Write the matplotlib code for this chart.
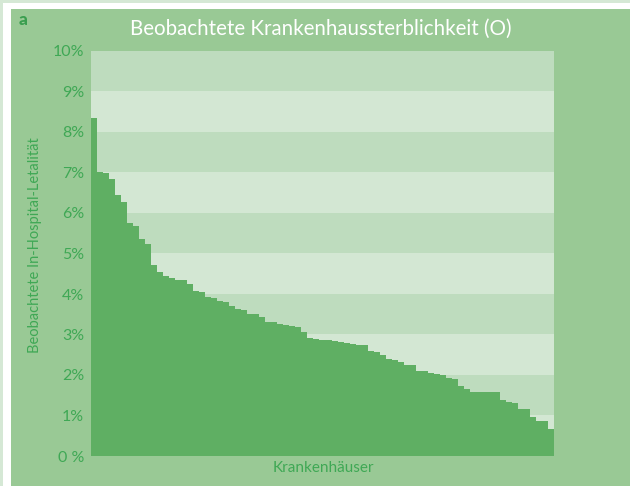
import numpy as np
import matplotlib.pyplot as plt
from matplotlib.patches import Rectangle

# beobachtete Letalitaet je Krankenhaus (%), absteigend sortiert
letalitaet = [
    8.35, 7.01, 6.99, 6.83, 6.44, 6.26, 5.75, 5.69, 5.35, 5.24,
    4.72, 4.55, 4.44, 4.39, 4.35, 4.34, 4.24, 4.07, 4.06, 3.93,
    3.90, 3.83, 3.80, 3.70, 3.62, 3.61, 3.51, 3.50, 3.43, 3.32,
    3.31, 3.25, 3.24, 3.20, 3.19, 3.05, 2.91, 2.88, 2.86, 2.86,
    2.84, 2.81, 2.79, 2.76, 2.74, 2.74, 2.59, 2.57, 2.50, 2.40,
    2.38, 2.33, 2.24, 2.24, 2.11, 2.10, 2.06, 2.02, 1.99, 1.93,
    1.89, 1.73, 1.65, 1.59, 1.59, 1.59, 1.59, 1.59, 1.38, 1.34,
    1.32, 1.16, 1.15, 0.97, 0.86, 0.86, 0.66,
]
y_ticks = list(range(0, 11))
y_labels = ["0 %"] + [f"{i}%" for i in y_ticks[1:]]

titel = "Beobachtete Krankenhaussterblichkeit (O)"
x_titel = "Krankenhäuser"
y_titel = "Beobachtete In-Hospital-Letalität"

panel = "#99c995"
balken = "#5faf63"
band_dunkel = "#bedcbe"
band_hell = "#d3e7d3"
text_gruen = "#3fa855"

plt.rcParams["font.family"] = ["Lato", "DejaVu Sans"]

fig = plt.figure(figsize=(6.3, 4.86), dpi=100)
fig.patch.set_facecolor("#d5e8d5")

W, H = 630, 486
# weisser Rahmen und gruenes Panel (Pixelkoordinaten -> Figurkoordinaten)
fig.add_artist(Rectangle((3 / W, 0), 1, 1 - 3 / H, transform=fig.transFigure,
                         facecolor="white", edgecolor="none", zorder=0))
fig.add_artist(Rectangle((11 / W, 0), 1, 1 - 9 / H, transform=fig.transFigure,
                         facecolor=panel, edgecolor="none", zorder=0))

ax = fig.add_axes([91 / W, 1 - 456 / H, (554 - 91) / W, (456 - 51) / H])
ax.set_facecolor(band_hell)

# abwechselnde Baender
for i in range(10):
    ax.axhspan(i, i + 1, color=band_dunkel if i % 2 == 1 else band_hell,
               lw=0, zorder=0)

x = np.arange(len(letalitaet))
ax.bar(x, letalitaet, width=1.0, align="edge", color=balken, lw=0, zorder=2)

ax.set_xlim(0, len(letalitaet))
ax.set_ylim(0, 10)
ax.set_xticks([])
ax.set_yticks(y_ticks)
ax.set_yticklabels(y_labels, fontsize=11.5, color=text_gruen)
ax.tick_params(axis="y", length=0, pad=5)
for s in ax.spines.values():
    s.set_visible(False)

fig.text(19 / W, 1 - 20 / H, "a", fontsize=12.5, fontweight="black",
         color="#3a9e4f", ha="left", va="center")
fig.text(321 / W, 1 - 29 / H, titel, fontsize=14.8, color="white",
         ha="center", va="center")
fig.text(323 / W, 1 - 468 / H, x_titel, fontsize=11, color=text_gruen,
         ha="center", va="center")
fig.text(35 / W, 1 - 245 / H, y_titel, fontsize=10.5, color=text_gruen,
         ha="center", va="center", rotation=90)

fig.savefig("out.png", dpi=100, facecolor=fig.get_facecolor())
